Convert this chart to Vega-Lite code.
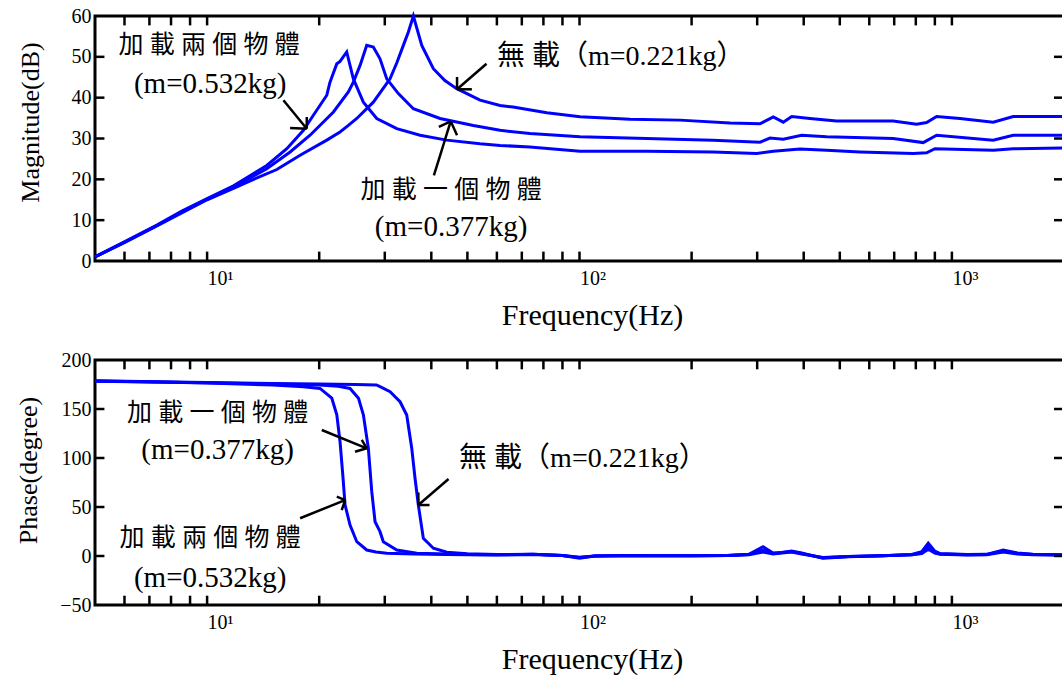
{
  "$schema": "https://vega.github.io/schema/vega-lite/v6.json",
  "background": "white",
  "padding": {"left": 14, "top": 4, "right": 0, "bottom": 0},
  "spacing": 16,
  "config": {
    "view": {"stroke": "black", "strokeWidth": 3},
    "font": "Liberation Serif",
    "axis": {
      "labelFont": "Liberation Serif",
      "titleFont": "Liberation Serif",
      "labelColor": "black",
      "titleColor": "black",
      "titleFontWeight": "normal",
      "domain": false,
      "ticks": false,
      "grid": false,
      "labelOverlap": false,
      "labelFlush": false,
      "labelFontSize": 20
    }
  },
  "datasets": {
    "xticks": [{"v":6},{"v":7},{"v":8},{"v":9},{"v":10},{"v":20},{"v":30},{"v":40},{"v":50},{"v":60},{"v":70},{"v":80},{"v":90},{"v":100},{"v":200},{"v":300},{"v":400},{"v":500},{"v":600},{"v":700},{"v":800},{"v":900},{"v":1000}],
    "magTicks": [{"v":10},{"v":20},{"v":30},{"v":40},{"v":50}],
    "phTicks": [{"v":0},{"v":50},{"v":100},{"v":150}],
    "mag": [
      {"s":"0.221","f":5,"v":1.0},{"s":"0.221","f":6.03,"v":4.6},{"s":"0.221","f":7.33,"v":8.6},{"s":"0.221","f":8.55,"v":11.8},{"s":"0.221","f":10,"v":15.0},{"s":"0.221","f":11.77,"v":17.8},{"s":"0.221","f":13.1,"v":19.7},{"s":"0.221","f":15.39,"v":22.4},{"s":"0.221","f":17.77,"v":25.9},{"s":"0.221","f":20.96,"v":29.6},{"s":"0.221","f":22.75,"v":31.6},{"s":"0.221","f":23.95,"v":33.2},{"s":"0.221","f":25.23,"v":34.9},{"s":"0.221","f":27.95,"v":38.9},{"s":"0.221","f":30.99,"v":44.6},{"s":"0.221","f":32.3,"v":48.5},{"s":"0.221","f":33.65,"v":52.8},{"s":"0.221","f":34.71,"v":56.1},{"s":"0.221","f":35.8,"v":60.0},{"s":"0.221","f":37.71,"v":52.8},{"s":"0.221","f":40.51,"v":47.1},{"s":"0.221","f":43.5,"v":44.2},{"s":"0.221","f":46.81,"v":42.2},{"s":"0.221","f":54.07,"v":39.4},{"s":"0.221","f":61.18,"v":38.1},{"s":"0.221","f":66.3,"v":37.7},{"s":"0.221","f":81.7,"v":36.3},{"s":"0.221","f":100.3,"v":35.3},{"s":"0.221","f":136.7,"v":34.7},{"s":"0.221","f":186.1,"v":34.5},{"s":"0.221","f":253.5,"v":33.8},{"s":"0.221","f":305.2,"v":33.6},{"s":"0.221","f":331.4,"v":35.3},{"s":"0.221","f":352.5,"v":34.0},{"s":"0.221","f":371.4,"v":35.4},{"s":"0.221","f":415.6,"v":34.9},{"s":"0.221","f":490.1,"v":34.3},{"s":"0.221","f":695.7,"v":34.3},{"s":"0.221","f":803.9,"v":33.5},{"s":"0.221","f":855.3,"v":33.9},{"s":"0.221","f":909.9,"v":35.4},{"s":"0.221","f":1051,"v":34.9},{"s":"0.221","f":1291,"v":34.0},{"s":"0.221","f":1461,"v":35.4},{"s":"0.221","f":2000,"v":35.4},
      {"s":"0.377","f":5,"v":1.0},{"s":"0.377","f":6.03,"v":4.7},{"s":"0.377","f":7.33,"v":8.7},{"s":"0.377","f":8.55,"v":12.0},{"s":"0.377","f":10,"v":15.1},{"s":"0.377","f":11.77,"v":18.2},{"s":"0.377","f":13.1,"v":20.4},{"s":"0.377","f":14.46,"v":22.6},{"s":"0.377","f":16.71,"v":26.7},{"s":"0.377","f":18.9,"v":30.8},{"s":"0.377","f":21.84,"v":36.5},{"s":"0.377","f":23.95,"v":41.4},{"s":"0.377","f":24.7,"v":43.8},{"s":"0.377","f":25.75,"v":47.9},{"s":"0.377","f":26.83,"v":52.8},{"s":"0.377","f":27.95,"v":52.4},{"s":"0.377","f":29.13,"v":49.5},{"s":"0.377","f":30.37,"v":44.6},{"s":"0.377","f":32.63,"v":41.0},{"s":"0.377","f":35.8,"v":37.3},{"s":"0.377","f":42.23,"v":34.9},{"s":"0.377","f":51.87,"v":33.2},{"s":"0.377","f":61.18,"v":32.0},{"s":"0.377","f":73.6,"v":31.2},{"s":"0.377","f":100.3,"v":30.4},{"s":"0.377","f":151.5,"v":30.0},{"s":"0.377","f":228.3,"v":29.6},{"s":"0.377","f":305.2,"v":29.1},{"s":"0.377","f":324.7,"v":30.1},{"s":"0.377","f":352.5,"v":29.8},{"s":"0.377","f":394.9,"v":30.8},{"s":"0.377","f":460.9,"v":30.4},{"s":"0.377","f":695.7,"v":30.0},{"s":"0.377","f":837.5,"v":29.0},{"s":"0.377","f":909.9,"v":30.8},{"s":"0.377","f":1291,"v":29.6},{"s":"0.377","f":1461,"v":30.8},{"s":"0.377","f":2000,"v":30.8},
      {"s":"0.532","f":5,"v":1.0},{"s":"0.532","f":6.03,"v":4.8},{"s":"0.532","f":7.33,"v":8.8},{"s":"0.532","f":8.55,"v":12.2},{"s":"0.532","f":10,"v":15.3},{"s":"0.532","f":11.77,"v":18.4},{"s":"0.532","f":13.1,"v":21.0},{"s":"0.532","f":14.46,"v":23.4},{"s":"0.532","f":16.37,"v":27.5},{"s":"0.532","f":18.14,"v":32.0},{"s":"0.532","f":19.29,"v":35.7},{"s":"0.532","f":20.96,"v":40.6},{"s":"0.532","f":21.38,"v":43.8},{"s":"0.532","f":22.3,"v":48.3},{"s":"0.532","f":22.75,"v":48.9},{"s":"0.532","f":23.71,"v":51.2},{"s":"0.532","f":24.7,"v":44.6},{"s":"0.532","f":26.28,"v":38.9},{"s":"0.532","f":28.55,"v":34.9},{"s":"0.532","f":32.31,"v":32.4},{"s":"0.532","f":37.32,"v":30.8},{"s":"0.532","f":44.01,"v":29.6},{"s":"0.532","f":54.07,"v":28.7},{"s":"0.532","f":61.18,"v":28.3},{"s":"0.532","f":73.6,"v":27.9},{"s":"0.532","f":100.3,"v":26.9},{"s":"0.532","f":151.5,"v":26.9},{"s":"0.532","f":228.3,"v":26.7},{"s":"0.532","f":299,"v":26.3},{"s":"0.532","f":331.4,"v":26.9},{"s":"0.532","f":390.8,"v":27.4},{"s":"0.532","f":460.9,"v":27.1},{"s":"0.532","f":566.2,"v":26.7},{"s":"0.532","f":787.3,"v":26.3},{"s":"0.532","f":855.3,"v":26.5},{"s":"0.532","f":900.4,"v":27.5},{"s":"0.532","f":1291,"v":27.1},{"s":"0.532","f":1461,"v":27.5},{"s":"0.532","f":2000,"v":27.7}
    ],
    "phase": [
      {"s":"0.221","f":5,"v":178.8},{"s":"0.221","f":8,"v":177.5},{"s":"0.221","f":10,"v":177},{"s":"0.221","f":15,"v":176},{"s":"0.221","f":20,"v":175.5},{"s":"0.221","f":25,"v":175},{"s":"0.221","f":28.5,"v":174.5},{"s":"0.221","f":29.13,"v":172.8},{"s":"0.221","f":31,"v":167.7},{"s":"0.221","f":32.97,"v":157.4},{"s":"0.221","f":34.36,"v":143.9},{"s":"0.221","f":35.44,"v":110},{"s":"0.221","f":36.17,"v":79.3},{"s":"0.221","f":36.92,"v":52},{"s":"0.221","f":38.08,"v":18},{"s":"0.221","f":40.51,"v":7.9},{"s":"0.221","f":44.01,"v":3.8},{"s":"0.221","f":50,"v":2.2},{"s":"0.221","f":60,"v":1.5},{"s":"0.221","f":75,"v":1.8},{"s":"0.221","f":90,"v":0.5},{"s":"0.221","f":100,"v":-2.4},{"s":"0.221","f":110,"v":0},{"s":"0.221","f":130,"v":0.5},{"s":"0.221","f":160,"v":0.3},{"s":"0.221","f":200,"v":0.3},{"s":"0.221","f":250,"v":0.5},{"s":"0.221","f":285,"v":1.8},{"s":"0.221","f":311,"v":9.5},{"s":"0.221","f":331,"v":3},{"s":"0.221","f":350,"v":3.5},{"s":"0.221","f":371,"v":5},{"s":"0.221","f":395,"v":3},{"s":"0.221","f":450,"v":-2.4},{"s":"0.221","f":527,"v":-0.7},{"s":"0.221","f":650,"v":0.3},{"s":"0.221","f":780,"v":1.5},{"s":"0.221","f":830,"v":4.4},{"s":"0.221","f":864,"v":13},{"s":"0.221","f":900,"v":5},{"s":"0.221","f":930,"v":2.5},{"s":"0.221","f":1100,"v":1.5},{"s":"0.221","f":1240,"v":1.7},{"s":"0.221","f":1373,"v":6},{"s":"0.221","f":1500,"v":3},{"s":"0.221","f":1650,"v":1.7},{"s":"0.221","f":2000,"v":1.2},
      {"s":"0.377","f":5,"v":178.6},{"s":"0.377","f":8,"v":177.3},{"s":"0.377","f":10,"v":176.7},{"s":"0.377","f":15,"v":175.5},{"s":"0.377","f":20,"v":174.5},{"s":"0.377","f":22.5,"v":173.3},{"s":"0.377","f":24.2,"v":171},{"s":"0.377","f":25.5,"v":161},{"s":"0.377","f":26.28,"v":144},{"s":"0.377","f":27.1,"v":110},{"s":"0.377","f":27.68,"v":65.6},{"s":"0.377","f":28.25,"v":35},{"s":"0.377","f":29.13,"v":24.8},{"s":"0.377","f":29.73,"v":14.6},{"s":"0.377","f":32.31,"v":6.1},{"s":"0.377","f":36.56,"v":2.7},{"s":"0.377","f":44,"v":2.0},{"s":"0.377","f":50,"v":1.6},{"s":"0.377","f":60,"v":1.2},{"s":"0.377","f":75,"v":1.7},{"s":"0.377","f":90,"v":0.5},{"s":"0.377","f":100,"v":-1.5},{"s":"0.377","f":110,"v":0},{"s":"0.377","f":130,"v":0.3},{"s":"0.377","f":160,"v":0.3},{"s":"0.377","f":200,"v":0.2},{"s":"0.377","f":250,"v":0.5},{"s":"0.377","f":285,"v":1.5},{"s":"0.377","f":311,"v":6},{"s":"0.377","f":331,"v":2.5},{"s":"0.377","f":350,"v":3.5},{"s":"0.377","f":371,"v":4.5},{"s":"0.377","f":395,"v":2.5},{"s":"0.377","f":450,"v":-1.8},{"s":"0.377","f":527,"v":-0.5},{"s":"0.377","f":650,"v":0.2},{"s":"0.377","f":780,"v":1.3},{"s":"0.377","f":830,"v":3},{"s":"0.377","f":864,"v":9},{"s":"0.377","f":900,"v":3.5},{"s":"0.377","f":930,"v":2},{"s":"0.377","f":1100,"v":1.2},{"s":"0.377","f":1240,"v":1.5},{"s":"0.377","f":1373,"v":5},{"s":"0.377","f":1500,"v":2.5},{"s":"0.377","f":1650,"v":1.5},{"s":"0.377","f":2000,"v":1.0},
      {"s":"0.532","f":5,"v":178.4},{"s":"0.532","f":8,"v":177.2},{"s":"0.532","f":10,"v":176.5},{"s":"0.532","f":15,"v":174.5},{"s":"0.532","f":18.14,"v":172.8},{"s":"0.532","f":20.1,"v":171},{"s":"0.532","f":21.62,"v":161},{"s":"0.532","f":22.3,"v":144},{"s":"0.532","f":22.75,"v":116.6},{"s":"0.532","f":23.14,"v":82.7},{"s":"0.532","f":23.47,"v":52},{"s":"0.532","f":24.2,"v":31.6},{"s":"0.532","f":25.23,"v":14.6},{"s":"0.532","f":26.83,"v":6.1},{"s":"0.532","f":28.4,"v":4},{"s":"0.532","f":30.37,"v":2.7},{"s":"0.532","f":36,"v":2.0},{"s":"0.532","f":44,"v":1.6},{"s":"0.532","f":50,"v":1.3},{"s":"0.532","f":60,"v":1.0},{"s":"0.532","f":75,"v":1.5},{"s":"0.532","f":90,"v":0.4},{"s":"0.532","f":100,"v":-1.2},{"s":"0.532","f":110,"v":0},{"s":"0.532","f":130,"v":0.2},{"s":"0.532","f":160,"v":0.2},{"s":"0.532","f":200,"v":0.2},{"s":"0.532","f":250,"v":0.4},{"s":"0.532","f":285,"v":1.2},{"s":"0.532","f":311,"v":4},{"s":"0.532","f":331,"v":2},{"s":"0.532","f":350,"v":3},{"s":"0.532","f":371,"v":4},{"s":"0.532","f":395,"v":2},{"s":"0.532","f":450,"v":-1.5},{"s":"0.532","f":527,"v":-0.4},{"s":"0.532","f":650,"v":0.2},{"s":"0.532","f":780,"v":1.2},{"s":"0.532","f":830,"v":2.5},{"s":"0.532","f":864,"v":7},{"s":"0.532","f":900,"v":3},{"s":"0.532","f":930,"v":1.8},{"s":"0.532","f":1100,"v":1},{"s":"0.532","f":1240,"v":1.3},{"s":"0.532","f":1373,"v":4},{"s":"0.532","f":1500,"v":2},{"s":"0.532","f":1650,"v":1.3},{"s":"0.532","f":2000,"v":0.9}
    ],
    "magArrows": [
      {"x":16.03,"y":39.36,"x2":18.52,"y2":32.4},{"x":18.52,"y":32.4,"x2":16.71,"y2":32.57},{"x":18.52,"y":32.4,"x2":18.52,"y2":35.27},
      {"x":56.27,"y":48.32,"x2":46.9,"y2":42.05},{"x":46.9,"y":42.05,"x2":46.9,"y2":45.07},{"x":46.9,"y":42.05,"x2":51.4,"y2":42.05},
      {"x":40.64,"y":20.99,"x2":45.1,"y2":34.21},{"x":45.1,"y":34.21,"x2":41.9,"y2":32.82},{"x":45.1,"y":34.21,"x2":46.9,"y2":30.79}
    ],
    "phArrows": [
      {"x":20.32,"y":128.6,"x2":26.83,"y2":109.9},{"x":26.83,"y":109.9,"x2":26.02,"y2":118.4},{"x":26.83,"y":109.9,"x2":24.96,"y2":106.4},
      {"x":17.77,"y":38.5,"x2":23.47,"y2":57.1},{"x":23.47,"y":57.1,"x2":22.3,"y2":60.5},{"x":23.47,"y":57.1,"x2":22.99,"y2":46.9},
      {"x":44.5,"y":78.6,"x2":36.92,"y2":52.0},{"x":36.92,"y":52.0,"x2":36.92,"y2":64.8},{"x":36.92,"y":52.0,"x2":39.56,"y2":52.0}
    ],
    "magCJK": [
      {"x":10.12,"y":52.9,"t":"加\u2005載\u2005兩\u2005個\u2005物\u2005體"},
      {"x":45.2,"y":17.39,"t":"加\u2005載\u2005一\u2005個\u2005物\u2005體"}
    ],
    "magLatin": [
      {"x":10.19,"y":43.35,"t":"(m=0.532kg)"},
      {"x":45.2,"y":8.33,"t":"(m=0.377kg)"}
    ],
    "magMixed": [
      {"x":60.05,"y":49.96,"t":"無\u2005載（m=0.221kg）"}
    ],
    "phCJK": [
      {"x":10.67,"y":145.9,"t":"加\u2005載\u2005一\u2005個\u2005物\u2005體"},
      {"x":10.19,"y":18.4,"t":"加\u2005載\u2005兩\u2005個\u2005物\u2005體"}
    ],
    "phLatin": [
      {"x":10.67,"y":108.2,"t":"(m=0.377kg)"},
      {"x":10.19,"y":-22.4,"t":"(m=0.532kg)"}
    ],
    "phMixed": [
      {"x":47.5,"y":99.0,"t":"無\u2005載（m=0.221kg）"}
    ]
  },
  "vconcat": [
    {
      "width": 969,
      "height": 245,
      "resolve": {"axis": {"x": "independent", "y": "independent"}},
      "layer": [
        {
          "data": {"name": "mag"},
          "mark": {"type": "line", "color": "#0000ff", "strokeWidth": 3},
          "encoding": {
            "x": {"field": "f", "type": "quantitative", "scale": {"type": "log", "domain": [5, 2000], "nice": false},
              "axis": {"orient": "bottom", "values": [10,100,1000],
                "labelExpr": "datum.value == 10 ? '10¹' : datum.value == 100 ? '10²' : '10³'",
                "labelAlign": "left", "labelDx": -5, "labelPadding": 7,
                "title": "Frequency(Hz)", "titleFontSize": 30, "titlePadding": 12, "titleX": 497}},
            "y": {"field": "v", "type": "quantitative", "scale": {"domain": [0, 60], "nice": false, "zero": false},
              "axis": {"orient": "left", "values": [0,10,20,30,40,50,60], "labelPadding": 4,
                "title": "Magnitude(dB)", "titleFontSize": 26, "titlePadding": 28, "titleY": 106}},
            "detail": {"field": "s"}
          }
        },
        {
          "data": {"name": "xticks"},
          "mark": {"type": "rule", "color": "black", "strokeWidth": 2.5},
          "encoding": {
            "x": {"field": "v", "type": "quantitative", "scale": {"type": "log", "domain": [5, 2000], "nice": false}, "axis": null},
            "y": {"datum": 0, "type": "quantitative", "scale": {"domain": [0, 60], "nice": false, "zero": false}, "axis": null},
            "y2": {"datum": 2.3}
          }
        },
        {
          "data": {"name": "xticks"},
          "mark": {"type": "rule", "color": "black", "strokeWidth": 2.5},
          "encoding": {
            "x": {"field": "v", "type": "quantitative", "scale": {"type": "log", "domain": [5, 2000], "nice": false}, "axis": null},
            "y": {"datum": 60, "type": "quantitative", "scale": {"domain": [0, 60], "nice": false, "zero": false}, "axis": null},
            "y2": {"datum": 57.7}
          }
        },
        {
          "data": {"name": "magTicks"},
          "mark": {"type": "rule", "color": "black", "strokeWidth": 2.5},
          "encoding": {
            "x": {"datum": 5, "type": "quantitative", "scale": {"type": "log", "domain": [5, 2000], "nice": false}, "axis": null},
            "x2": {"datum": 5.3},
            "y": {"field": "v", "type": "quantitative", "scale": {"domain": [0, 60], "nice": false, "zero": false}, "axis": null}
          }
        },
        {
          "data": {"name": "magTicks"},
          "mark": {"type": "rule", "color": "black", "strokeWidth": 2.5},
          "encoding": {
            "x": {"datum": 2000, "type": "quantitative", "scale": {"type": "log", "domain": [5, 2000], "nice": false}, "axis": null},
            "x2": {"datum": 1880},
            "y": {"field": "v", "type": "quantitative", "scale": {"domain": [0, 60], "nice": false, "zero": false}, "axis": null}
          }
        },
        {
          "data": {"name": "magArrows"},
          "mark": {"type": "rule", "color": "black", "strokeWidth": 2.5},
          "encoding": {
            "x": {"field": "x", "type": "quantitative", "scale": {"type": "log", "domain": [5, 2000], "nice": false}, "axis": null},
            "y": {"field": "y", "type": "quantitative", "scale": {"domain": [0, 60], "nice": false, "zero": false}, "axis": null},
            "x2": {"field": "x2"},
            "y2": {"field": "y2"}
          }
        },
        {
          "data": {"name": "magCJK"},
          "mark": {"type": "text", "font": "Noto Sans CJK TC", "fontSize": 25, "align": "center", "baseline": "middle", "color": "black"},
          "encoding": {
            "x": {"field": "x", "type": "quantitative", "scale": {"type": "log", "domain": [5, 2000], "nice": false}, "axis": null},
            "y": {"field": "y", "type": "quantitative", "scale": {"domain": [0, 60], "nice": false, "zero": false}, "axis": null},
            "text": {"field": "t"}
          }
        },
        {
          "data": {"name": "magLatin"},
          "mark": {"type": "text", "font": "Liberation Serif", "fontSize": 29, "align": "center", "baseline": "middle", "color": "black"},
          "encoding": {
            "x": {"field": "x", "type": "quantitative", "scale": {"type": "log", "domain": [5, 2000], "nice": false}, "axis": null},
            "y": {"field": "y", "type": "quantitative", "scale": {"domain": [0, 60], "nice": false, "zero": false}, "axis": null},
            "text": {"field": "t"}
          }
        },
        {
          "data": {"name": "magMixed"},
          "mark": {"type": "text", "font": "'Liberation Serif', 'Noto Sans CJK TC'", "fontSize": 28, "align": "left", "baseline": "middle", "color": "black"},
          "encoding": {
            "x": {"field": "x", "type": "quantitative", "scale": {"type": "log", "domain": [5, 2000], "nice": false}, "axis": null},
            "y": {"field": "y", "type": "quantitative", "scale": {"domain": [0, 60], "nice": false, "zero": false}, "axis": null},
            "text": {"field": "t"}
          }
        }
      ]
    },
    {
      "width": 969,
      "height": 245,
      "resolve": {"axis": {"x": "independent", "y": "independent"}},
      "layer": [
        {
          "data": {"name": "phase"},
          "mark": {"type": "line", "color": "#0000ff", "strokeWidth": 3},
          "encoding": {
            "x": {"field": "f", "type": "quantitative", "scale": {"type": "log", "domain": [5, 2000], "nice": false},
              "axis": {"orient": "bottom", "values": [10,100,1000],
                "labelExpr": "datum.value == 10 ? '10¹' : datum.value == 100 ? '10²' : '10³'",
                "labelAlign": "left", "labelDx": -5, "labelPadding": 7,
                "title": "Frequency(Hz)", "titleFontSize": 30, "titlePadding": 12, "titleX": 497}},
            "y": {"field": "v", "type": "quantitative", "scale": {"domain": [-50, 200], "nice": false, "zero": false},
              "axis": {"orient": "left", "values": [-50,0,50,100,150,200], "labelPadding": 4,
                "title": "Phase(degree)", "titleFontSize": 26, "titlePadding": 18, "titleY": 110}},
            "detail": {"field": "s"}
          }
        },
        {
          "data": {"name": "xticks"},
          "mark": {"type": "rule", "color": "black", "strokeWidth": 2.5},
          "encoding": {
            "x": {"field": "v", "type": "quantitative", "scale": {"type": "log", "domain": [5, 2000], "nice": false}, "axis": null},
            "y": {"datum": -50, "type": "quantitative", "scale": {"domain": [-50, 200], "nice": false, "zero": false}, "axis": null},
            "y2": {"datum": -40.5}
          }
        },
        {
          "data": {"name": "xticks"},
          "mark": {"type": "rule", "color": "black", "strokeWidth": 2.5},
          "encoding": {
            "x": {"field": "v", "type": "quantitative", "scale": {"type": "log", "domain": [5, 2000], "nice": false}, "axis": null},
            "y": {"datum": 200, "type": "quantitative", "scale": {"domain": [-50, 200], "nice": false, "zero": false}, "axis": null},
            "y2": {"datum": 190.5}
          }
        },
        {
          "data": {"name": "phTicks"},
          "mark": {"type": "rule", "color": "black", "strokeWidth": 2.5},
          "encoding": {
            "x": {"datum": 5, "type": "quantitative", "scale": {"type": "log", "domain": [5, 2000], "nice": false}, "axis": null},
            "x2": {"datum": 5.3},
            "y": {"field": "v", "type": "quantitative", "scale": {"domain": [-50, 200], "nice": false, "zero": false}, "axis": null}
          }
        },
        {
          "data": {"name": "phTicks"},
          "mark": {"type": "rule", "color": "black", "strokeWidth": 2.5},
          "encoding": {
            "x": {"datum": 2000, "type": "quantitative", "scale": {"type": "log", "domain": [5, 2000], "nice": false}, "axis": null},
            "x2": {"datum": 1880},
            "y": {"field": "v", "type": "quantitative", "scale": {"domain": [-50, 200], "nice": false, "zero": false}, "axis": null}
          }
        },
        {
          "data": {"name": "phArrows"},
          "mark": {"type": "rule", "color": "black", "strokeWidth": 2.5},
          "encoding": {
            "x": {"field": "x", "type": "quantitative", "scale": {"type": "log", "domain": [5, 2000], "nice": false}, "axis": null},
            "y": {"field": "y", "type": "quantitative", "scale": {"domain": [-50, 200], "nice": false, "zero": false}, "axis": null},
            "x2": {"field": "x2"},
            "y2": {"field": "y2"}
          }
        },
        {
          "data": {"name": "phCJK"},
          "mark": {"type": "text", "font": "Noto Sans CJK TC", "fontSize": 25, "align": "center", "baseline": "middle", "color": "black"},
          "encoding": {
            "x": {"field": "x", "type": "quantitative", "scale": {"type": "log", "domain": [5, 2000], "nice": false}, "axis": null},
            "y": {"field": "y", "type": "quantitative", "scale": {"domain": [-50, 200], "nice": false, "zero": false}, "axis": null},
            "text": {"field": "t"}
          }
        },
        {
          "data": {"name": "phLatin"},
          "mark": {"type": "text", "font": "Liberation Serif", "fontSize": 29, "align": "center", "baseline": "middle", "color": "black"},
          "encoding": {
            "x": {"field": "x", "type": "quantitative", "scale": {"type": "log", "domain": [5, 2000], "nice": false}, "axis": null},
            "y": {"field": "y", "type": "quantitative", "scale": {"domain": [-50, 200], "nice": false, "zero": false}, "axis": null},
            "text": {"field": "t"}
          }
        },
        {
          "data": {"name": "phMixed"},
          "mark": {"type": "text", "font": "'Liberation Serif', 'Noto Sans CJK TC'", "fontSize": 28, "align": "left", "baseline": "middle", "color": "black"},
          "encoding": {
            "x": {"field": "x", "type": "quantitative", "scale": {"type": "log", "domain": [5, 2000], "nice": false}, "axis": null},
            "y": {"field": "y", "type": "quantitative", "scale": {"domain": [-50, 200], "nice": false, "zero": false}, "axis": null},
            "text": {"field": "t"}
          }
        }
      ]
    }
  ]
}
